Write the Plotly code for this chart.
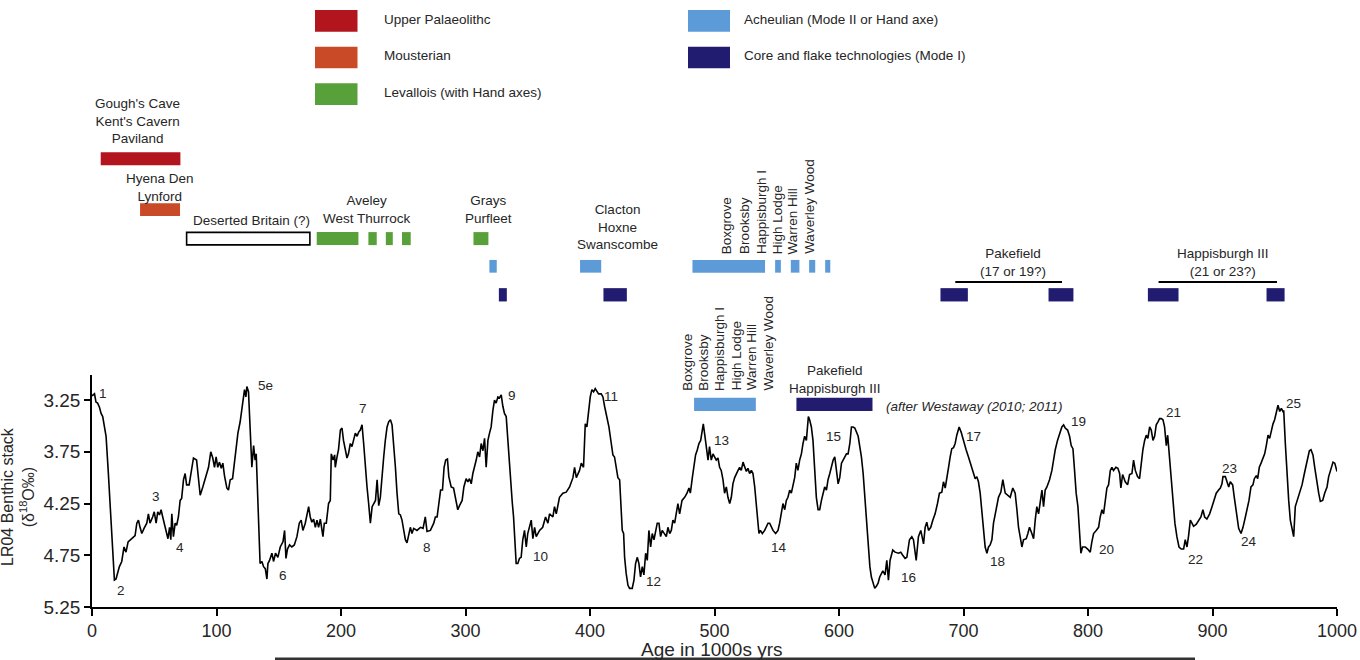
import plotly.graph_objects as go

# ---------------- DATA ----------------
# LR04 benthic stack (age in ka, d18O permil)
age_ka = [0, 2, 3.2, 4.5, 6, 7.3, 8.6, 10, 11.3, 13, 15, 16.6, 18, 19.3, 20.3, 22, 23.9, 25.7, 27.3, 29,
          31.9, 34.6, 36, 37.3, 38.6, 40, 41.8, 44, 45.3, 46.6, 48.7, 50, 51.5, 52.8, 54.2, 55.5, 56.8, 58,
          59.5, 61, 62.3, 63.3, 64.1, 65.4, 66.8, 68, 69.4, 70.8, 72, 73.5, 74.8, 76, 78, 80, 81.5, 84, 85.5,
          86.9, 89, 90.9, 93.6, 95.4, 97, 98.4, 99.7, 101, 102.4, 103.8, 105.1, 106.4, 108.3, 109.6, 111,
          112.9, 114.5, 115.8, 117.2, 119, 120.9, 122.5, 123.6, 124.4, 125.7, 127, 128.4, 129.8, 131, 131.9,
          133, 134.3, 135, 136.5, 137.8, 139.2, 140.5, 141.3, 142.6, 144.5, 145.8, 147.4, 149.3, 151.2,
          153.4, 154.7, 155.8, 157, 158.7, 160.5, 162.5, 164.6, 166.5, 168, 169.4, 171.3, 172.6, 174, 175.3,
          176.6, 178, 179.4, 180.7, 182, 183.4, 184.7, 185.5, 186.6, 188.2, 190, 191.4, 192.2, 193.6, 194.9,
          195.4, 196.8, 198, 199.5, 200.8, 202, 203.5, 204.8, 206, 207.5, 208.8, 210, 211.5, 212.9, 214.2,
          215.5, 216.9, 218.2, 219.6, 220.9, 222.2, 223.6, 225, 226.3, 227.7, 229, 230.3, 231.6, 233, 234.3,
          235.6, 237, 238.3, 239.7, 241, 242.4, 243.7, 245, 246.4, 247.7, 249, 250.4, 251.7, 253, 254.4,
          255.7, 257, 258.4, 261, 263.8, 265.9, 267.7, 269.1, 271.8, 274.5, 275.8, 277.2, 278.6, 280, 281.5,
          282.8, 284.1, 285.5,
          286.6, 288.5, 290.4, 292, 293.8, 295.2, 297.3, 298.7, 300.5, 301.9, 303.2, 304.6, 305.9, 308.6,
          309.9, 311.3, 312.6, 314, 315.3, 316.6, 318, 319.3, 320.6, 322, 323.3, 324.6, 326, 327.3, 328.7,
          330, 331.3, 332.7, 334, 335.4, 336.7, 337.5, 338.6, 339.6, 340.7, 342, 343.4, 344.7, 346, 347.4,
          348.8, 350, 351.4, 352.8, 354.1, 355.5, 356.8, 359.5, 362, 364.3, 366.2, 367.5, 370.2, 371.5,
          372.9, 375.5, 378.2, 380.9, 383.6, 386.3, 387.6, 389, 391.6, 393, 394.8, 396.2, 397.5, 398.8,
          400.2, 401.5, 402.9, 404.2, 405.5, 406.9, 409, 410.4, 411.7, 413, 415.2, 417.1, 418.4, 419.7, 421,
          422.4, 423.8, 425.1, 425.9, 427, 427.8, 429.1, 430.5, 431.8, 433.9, 435.3, 436.6, 438, 439.3,
          440.6, 442, 443.3, 444.7, 446, 447.3, 448.7, 450, 451.4, 452.7, 454, 455.4, 456.7, 458, 459.9,
          461.3, 462.6, 464, 465.3, 466.6, 468, 469.3, 470.6, 472, 473.9, 476, 477.9, 479.5, 480.6, 482.2,
          483.2, 484.8, 486.2, 487.5, 488.9, 490.2, 491, 492, 493.4, 494.8, 496, 497.4, 498.8, 500, 501.4,
          502.8, 504.1, 505.4, 506.8, 508.1, 509.5, 510.8, 512.2, 513.5, 514.8, 516.2, 517.5, 518.9, 520.2,
          521.5, 522.9, 524.2, 525.6, 526.9, 528.2, 529.6, 530.9, 532.3, 533.6, 535, 535.7, 536.8, 538.4,
          540.3, 543, 544.3, 545.6, 547, 549.1, 551, 552.3, 553.7, 555, 556.4, 557.7, 559, 560.4, 561.7, 563,
          564.4, 565.7, 567, 568.4, 569.8, 571.1, 572.4, 573.8, 574.6, 575.4, 576.4, 577.8, 579.1, 580.5,
          581.8, 583.2, 584.5, 585.9, 587.2, 588.5, 589.9, 591.2, 592.6, 593.9, 595.3, 596.6, 597.9, 599.3,
          600.6, 602, 603.3, 604.6, 606, 607.3, 608.7, 610, 611.3, 612.7, 614, 615.4, 616.7, 618, 619.4,
          620.7, 622.1, 623.4, 624.8, 626, 627.4, 628.7, 630, 631.4, 632.7,
          635.2, 637, 638.4, 639.7, 641, 643.2, 645, 647.8, 649.6, 651.2, 653.1, 654.5, 656.6, 658.5, 659.8,
          662, 663.8, 665.7, 667.9, 669.2, 670.5, 671.9, 673.7, 675.4, 677.2, 679.1, 680.7, 682.6, 683.9,
          685.3, 686.6, 688, 689.3, 690.6, 692, 693.3, 694.6, 696.5, 698.1, 700, 702.1, 704, 705.9, 708,
          709.4, 710.7, 712, 713.4, 714.7, 716, 717.4, 718.8, 720.1, 721.4, 722.8, 724.1, 726.3, 728.1, 730,
          731.6, 733.5, 735.4, 737.5, 739.6, 741.5, 742.9, 744.2, 745.5, 746.9, 748.2, 750.4, 751.7, 753,
          754.9, 756.3, 757.6, 758.9, 760.3, 761.6, 763, 764.3, 765.6, 767, 769.1, 771, 772.3, 773.7, 775.5,
          777.1, 779, 780.4, 781.7, 783.6, 785.2, 786.5, 787.9, 789.2, 790.5, 791.9, 793, 794.3, 795.6,
          797.8, 799.7, 801.8, 803.1, 804.5, 806.6, 808.5, 809.8, 811.2, 812.5, 813.8, 815.2, 816.5, 817.9,
          819.2, 820.5, 822.4, 824, 825.4, 826.4, 827.8, 829.9, 831.8, 833.4, 835.3, 836.6, 838, 839.8,
          841.4, 842.8, 844.1, 845.5, 846.8, 848.1, 849.5, 850.8, 852.2, 853.5, 854.8, 856.2, 857.5, 858.9,
          860.2, 861.5, 862.9, 864, 865, 866.6, 868.2, 869.8, 871.4, 873.1, 874.9, 876.8, 878.1, 879.5,
          880.8, 882.2, 883.5, 884.8, 887, 888.9, 890.7, 892.3, 893.7, 895.5, 897.7, 899.6, 901.4, 903,
          904.9, 906.3, 907.6, 908.4, 910.3, 911.6, 913, 914.3, 916.2, 917.5, 919.1, 921, 922.9, 924.5,
          926.4, 927.7, 929.3, 930.9, 932.5, 933.6, 935.2, 936.3, 937.6, 939, 940.6, 941.9, 943.2, 944.6,
          945.9, 947.3, 948.6, 949.9, 951.3, 952.6, 954, 955.3, 956.6, 957.2, 958.5, 959.8, 961.2, 962.5,
          963.9, 965.2, 966.5, 967.9, 970, 971.9, 973.8, 975.9, 977.8, 979.1, 980.7, 982.1, 983.4, 985.3,
          986.6, 988.5, 990.1, 992, 993.3, 995.2, 996.8, 998.2, 1000]

d18o = [3.21, 3.19, 3.27, 3.28, 3.32, 3.38, 3.41, 3.51, 3.60, 3.93, 4.38, 4.73, 4.99, 4.98, 4.93, 4.86, 4.81,
        4.67, 4.72, 4.62, 4.59, 4.56, 4.44, 4.41, 4.48, 4.54, 4.49, 4.44, 4.35, 4.44, 4.38, 4.33, 4.44,
        4.33, 4.36, 4.31, 4.38, 4.44, 4.51, 4.59, 4.48, 4.60, 4.35, 4.57, 4.44, 4.46, 4.38, 4.22, 4.20,
        4.02, 3.96, 4.07, 4.07, 3.90, 3.81, 3.83, 3.99, 4.17, 4.09, 4.02, 3.90, 3.75, 3.81, 3.90, 3.80,
        3.90, 3.85, 3.91, 3.86, 3.98, 4.10, 4.12, 4.02, 4.01, 3.86, 3.73, 3.57, 3.46, 3.28, 3.15, 3.22,
        3.12, 3.17, 3.51, 3.90, 3.69, 3.83, 3.77, 4.15, 4.67, 4.83, 4.81, 4.86, 4.88, 4.98, 4.83, 4.80,
        4.73, 4.81, 4.73, 4.77, 4.67, 4.62, 4.51, 4.78, 4.69, 4.65, 4.67, 4.65, 4.57, 4.44, 4.41, 4.51,
        4.44, 4.35, 4.28, 4.38, 4.43, 4.40, 4.48, 4.41, 4.48, 4.40, 4.49, 4.57, 4.44, 4.44, 4.25, 4.22,
        3.77, 3.83, 3.78, 3.90, 3.80, 3.73, 3.54, 3.52, 3.64, 3.73, 3.81, 3.77, 3.67, 3.70, 3.64, 3.57,
        3.60, 3.56, 3.54, 3.49, 3.67, 3.93, 4.09, 4.25, 4.44, 4.28, 4.25, 4.22, 4.02, 4.27, 4.19, 3.96,
        3.80, 3.64, 3.51, 3.46, 3.44, 3.49, 3.67, 3.90, 4.15, 4.35, 4.36, 4.41, 4.51, 4.60, 4.63, 4.54,
        4.48, 4.54, 4.49, 4.51, 4.48, 4.49, 4.38, 4.52, 4.51, 4.44, 4.38, 4.38, 4.25, 4.12, 4.12, 3.90,
        3.83, 3.82,
        3.99, 4.09, 4.10, 4.22, 4.31, 4.27, 4.22, 4.09, 4.01, 4.04, 4.01, 4.06, 3.96, 3.83, 3.75, 3.80,
        3.67, 3.74, 3.62, 3.90, 3.64, 3.57, 3.51, 3.35, 3.25, 3.28, 3.22, 3.23, 3.20, 3.31, 3.38, 3.41,
        3.64, 3.90, 4.19, 4.23, 4.38, 4.64, 4.83, 4.83, 4.78, 4.77, 4.60, 4.51, 4.67, 4.54, 4.48, 4.41,
        4.59, 4.48, 4.57, 4.51, 4.48, 4.38, 4.44, 4.35, 4.38, 4.28, 4.35, 4.19, 4.15, 4.14, 4.09, 4.00,
        3.90, 4.00, 3.93, 3.86, 3.90, 3.48, 3.51, 3.35, 3.22, 3.15, 3.17, 3.14, 3.17, 3.19, 3.19, 3.22,
        3.31, 3.38, 3.51, 3.67, 3.78, 3.80, 3.88, 4.00, 4.02, 4.28, 4.51, 4.54, 4.77, 4.93, 5.04, 5.07,
        5.07, 4.99, 4.83, 4.77, 4.83, 4.96, 4.86, 4.94, 4.73, 4.80, 4.51, 4.67, 4.54, 4.60, 4.51, 4.44,
        4.44, 4.57, 4.51, 4.54, 4.57, 4.48, 4.54, 4.51, 4.41, 4.44, 4.35, 4.25, 4.35, 4.22, 4.19, 4.15,
        4.10, 4.15, 4.00, 3.91, 3.78, 3.73, 3.67, 3.64, 3.54, 3.48, 3.57, 3.70, 3.83, 3.70, 3.83, 3.77,
        3.80, 3.83, 3.81, 3.90, 3.93, 4.02, 4.15, 4.09, 4.19, 4.25, 4.19, 4.06, 4.00, 3.96, 3.93, 3.90,
        3.93, 3.85, 3.90, 3.94, 3.91, 3.96, 3.93, 3.96, 4.09, 4.25, 4.38, 4.54, 4.51, 4.54, 4.51, 4.44,
        4.44, 4.48, 4.51, 4.54, 4.51, 4.44, 4.35, 4.25, 4.31, 4.22, 4.19, 4.12, 4.15, 4.06, 4.00, 3.86,
        3.93, 3.83, 3.77, 3.67, 3.60, 3.64, 3.51, 3.41, 3.44, 3.51, 3.64, 3.90, 4.19, 4.31, 4.31, 4.22,
        4.15, 4.09, 4.12, 4.02, 3.96, 3.90, 3.83, 3.80, 3.93, 4.06, 4.00, 3.86, 3.83, 3.80, 3.77, 3.77,
        3.67, 3.51, 3.51, 3.52, 3.56, 3.60, 3.70, 3.80, 3.96, 4.19, 4.44, 4.67, 4.86, 4.96, 5.02, 5.07,
        5.05, 5.02, 4.96,
        4.90, 4.94, 4.80, 4.99, 4.80, 4.70, 4.72, 4.73, 4.72, 4.75, 4.78, 4.77, 4.60, 4.57, 4.60, 4.80,
        4.57, 4.51, 4.64, 4.48, 4.43, 4.51, 4.48, 4.41, 4.35, 4.25, 4.15, 4.14, 4.04, 4.10, 4.02, 3.90,
        3.80, 3.72, 3.71, 3.67, 3.59, 3.51, 3.56, 3.65, 3.73, 3.80, 3.88, 3.96, 4.01, 3.99, 4.04, 4.15,
        4.31, 4.51, 4.67, 4.73, 4.67, 4.65, 4.60, 4.44, 4.31, 4.19, 4.14, 4.02, 4.15, 4.17, 4.19, 4.10,
        4.15, 4.31, 4.48, 4.57, 4.67, 4.60, 4.59, 4.54, 4.48, 4.54, 4.59, 4.41, 4.28, 4.35, 4.22, 4.12,
        4.28, 4.12, 4.09, 4.02, 3.93, 3.83, 3.73, 3.64, 3.57, 3.51, 3.49, 3.52, 3.54, 3.60, 3.69, 3.72,
        3.93, 4.15, 4.28, 4.51, 4.73, 4.67, 4.67, 4.69, 4.72, 4.62, 4.54, 4.51, 4.48, 4.38, 4.31, 4.35,
        4.22, 4.10, 4.07, 3.93, 3.90, 3.93, 3.90, 3.91, 3.96, 4.10, 3.97, 4.04, 4.07, 3.97, 3.96, 3.83,
        3.93, 3.99, 4.01, 3.86, 3.73, 3.64, 3.59, 3.62, 3.51, 3.54, 3.64, 3.60, 3.49, 3.46, 3.43, 3.43,
        3.44, 3.51, 3.69, 3.59, 3.73, 3.99, 4.25, 4.44, 4.57, 4.67, 4.69, 4.69, 4.60, 4.67, 4.56, 4.41,
        4.44, 4.47, 4.45, 4.41, 4.38, 4.31, 4.38, 4.40, 4.35, 4.28, 4.22, 4.15, 4.12, 4.10, 4.06, 3.99,
        3.99, 4.04, 4.09, 4.04, 4.07, 4.19, 4.35, 4.49, 4.54, 4.48, 4.38, 4.31, 4.22, 4.09, 4.07, 4.01,
        3.98, 4.01, 3.90, 3.86, 3.80, 3.77, 3.69, 3.59, 3.62, 3.54, 3.48, 3.44, 3.38, 3.30, 3.36, 3.33,
        3.36, 3.35, 3.67, 3.96, 4.22, 4.41, 4.51, 4.57, 4.28, 4.22, 4.15, 4.07, 3.96, 3.83, 3.74, 3.73,
        3.78, 3.90, 4.02, 4.15, 4.23, 4.22, 4.15, 4.09, 3.99, 3.90, 3.85, 3.86, 3.94]

# Marine isotope stage labels: (text, age ka, d18O)
stage_labels = [("1", 9.1, 3.185), ("2", 23.1, 5.095), ("3", 51.2, 4.186), ("4", 70.9, 4.679),
                ("5e", 139.2, 3.105), ("6", 153.7, 4.943), ("7", 217.5, 3.33), ("8", 268.9, 4.679),
                ("9", 337.2, 3.208), ("10", 359.9, 4.759), ("11", 416.7, 3.211), ("12", 451.0, 5.001),
                ("13", 505.9, 3.644), ("14", 551.9, 4.679), ("15", 595.6, 3.605), ("16", 655.8, 4.969),
                ("17", 708.0, 3.605), ("18", 727.3, 4.808), ("19", 792.4, 3.453), ("20", 814.7, 4.695),
                ("21", 868.7, 3.369), ("22", 886.2, 4.791), ("23", 913.7, 3.911), ("24", 929.0, 4.621),
                ("25", 964.7, 3.282)]

# Archaeological occupation spans (start ka, end ka)
upper_pal_spans = [(7, 71)]
mousterian_spans = [(38.6, 70.7)]
deserted_spans = [(76, 175)]
levallois_spans = [(180.5, 214), (222, 228.7), (236, 241.6), (249, 256), (306.4, 318.4)]
acheulian_spans = [(319.2, 325.1), (392, 409), (482.3, 540.6), (548.7, 553.3), (561.3, 568.2),
                   (576, 580.9), (588.9, 593)]
core_spans = [(326.8, 333.2), (410.8, 429.6), (681.5, 703.5), (768.3, 788.3), (848.1, 872.7),
              (943.4, 957.9)]
westaway_acheulian = [(483.6, 533.2)]
westaway_core = [(565.8, 626.9)]
bracket_spans = [(693.4, 779.1), (856.7, 951.8)]

x_ticks = [0, 100, 200, 300, 400, 500, 600, 700, 800, 900, 1000]
y_ticks = [3.25, 3.75, 4.25, 4.75, 5.25]
y_ticktext = ["3.25", "3.75", "4.25", "4.75", "5.25"]

# ---------------- STYLE / LAYOUT ----------------
W, H = 1360, 660
L, R, T, B = 92, 23, 0, 53
PH = H - T - B          # plot height in px
PW = W - L - R
FONT = "Liberation Sans, Arial, sans-serif"
TXT = "#262626"

C_RED = "#B3151F"
C_ORANGE = "#C94A27"
C_GREEN = "#58A03A"
C_LBLUE = "#5C9AD8"
C_NAVY = "#211C70"


def pxx(px):
    return (px - L) / PW


def pxy(py):
    return (PH - py) / PH


fig = go.Figure()

# main curve
fig.add_trace(go.Scatter(x=age_ka, y=d18o, mode="lines",
                         line=dict(color="black", width=1.6),
                         showlegend=False, hoverinfo="skip"))


def add_bars(spans, row, height, color, line_color=None):
    fig.add_trace(go.Bar(
        y=[row] * len(spans), x=[e - s for s, e in spans], base=[s for s, e in spans],
        orientation="h", width=height, yaxis="y2",
        marker=dict(color=color, line=dict(color=line_color or color, width=1.6 if line_color else 0)),
        showlegend=False, hoverinfo="skip"))


# rows (y2 is measured in px from top of plot area)
ROW_UP, ROW_MOUS, ROW_LEV, ROW_ACH, ROW_CORE, ROW_LOW = 158.8, 209.7, 238.6, 266.3, 294.8, 404.3
add_bars(upper_pal_spans, ROW_UP, 13, C_RED)
add_bars(mousterian_spans, ROW_MOUS, 12.7, C_ORANGE)
add_bars(deserted_spans, ROW_LEV, 12.5, "white", "black")
add_bars(levallois_spans, ROW_LEV, 13, C_GREEN)
add_bars(acheulian_spans, ROW_ACH, 12.7, C_LBLUE)
add_bars(core_spans, ROW_CORE, 13.3, C_NAVY)
add_bars(westaway_acheulian, ROW_LOW, 13.3, C_LBLUE)
add_bars(westaway_core, ROW_LOW, 13.3, C_NAVY)

for s, e in bracket_spans:
    fig.add_trace(go.Scatter(x=[s, e], y=[282, 282], yaxis="y2", mode="lines",
                             line=dict(color="black", width=2.2), showlegend=False, hoverinfo="skip"))

ann = []
# stage labels
for t, xa, ya in stage_labels:
    ann.append(dict(x=xa, y=ya, xref="x", yref="y", text=t, showarrow=False,
                    xanchor="center", yanchor="middle", font=dict(size=13.5, color=TXT, family=FONT)))


def label(x, y, text, xanchor="center", yanchor="middle", angle=0, italic=False):
    ann.append(dict(x=x, y=y, xref="x", yref="y2", text=text, showarrow=False, textangle=angle,
                    xanchor=xanchor, yanchor=yanchor, align="center",
                    font=dict(size=13.5, color=TXT, family=FONT,
                              style="italic" if italic else "normal")))


label(36.2, 120.5, "Gough's Cave<br>Kent's Cavern<br>Paviland")
label(54.6, 187.5, "Hyena Den<br>Lynford")
label(128.3, 220.7, "Deserted Britain (?)")
label(220.7, 209.7, "Aveley<br>West Thurrock")
label(318.4, 209.7, "Grays<br>Purfleet")
label(422.2, 226.5, "Clacton<br>Hoxne<br>Swanscombe")
label(739.4, 262.8, "Pakefield<br>(17 or 19?)")
label(908.1, 262.8, "Happisburgh III<br>(21 or 23?)")
label(596.4, 379.2, "Pakefield<br>Happisburgh III")
label(636.5, 406, "(after Westaway (2010; 2011)", xanchor="left", italic=True)

sites = ["Boxgrove", "Brooksby", "Happisburgh I", "High Lodge", "Warren Hill", "Waverley Wood"]
upper_site_x = [509.9, 524.0, 537.4, 550.8, 562.6, 576.2]
lower_site_x = [477.8, 490.6, 504.0, 517.4, 530.0, 543.3]
for s, xu, xl in zip(sites, upper_site_x, lower_site_x):
    label(xu, 256, s, yanchor="bottom", angle=-90)
    label(xl, 392.5, s, yanchor="bottom", angle=-90)

# legend (drawn)
shapes = []
legend_items = [("Upper Palaeolithc", C_RED, 315, 357.5, 10, 31.7),
                ("Mousterian", C_ORANGE, 315, 357.5, 46.7, 68.3),
                ("Levallois (with Hand axes)", C_GREEN, 315, 357.5, 83.3, 105),
                ("Acheulian (Mode II or Hand axe)", C_LBLUE, 688, 730, 10, 31.7),
                ("Core and flake technologies (Mode I)", C_NAVY, 688, 730, 46.7, 68.3)]
for text, col, x0, x1, y0, y1 in legend_items:
    shapes.append(dict(type="rect", xref="paper", yref="paper", x0=pxx(x0), x1=pxx(x1),
                       y0=pxy(y1), y1=pxy(y0), fillcolor=col, line=dict(width=0), layer="above"))
    tx = 381.5 if x0 < 500 else 742
    ann.append(dict(x=pxx(tx), y=pxy((y0 + y1) / 2 - 1.5), xref="paper", yref="paper", text=text,
                    showarrow=False, xanchor="left", yanchor="middle",
                    font=dict(size=13.5, color=TXT, family=FONT)))

# axis titles
ann.append(dict(x=pxx(18), y=pxy(497), xref="paper", yref="paper", textangle=-90,
                text="LR04 Benthic stack<br>(δ<sup>18</sup>O‰)", showarrow=False,
                xanchor="center", yanchor="middle", align="center",
                font=dict(size=16, color=TXT, family=FONT)))
ann.append(dict(x=pxx(712), y=pxy(650), xref="paper", yref="paper", text="Age in 1000s yrs",
                showarrow=False, xanchor="center", yanchor="middle",
                font=dict(size=19, color=TXT, family=FONT)))

# thin strip of the following figure visible at the bottom edge
shapes.append(dict(type="rect", xref="paper", yref="paper", x0=pxx(275), x1=pxx(1195),
                   y0=pxy(660), y1=pxy(657.5), fillcolor="#333333", line=dict(width=0)))

fig.update_layout(
    width=W, height=H,
    margin=dict(l=L, r=R, t=T, b=B, pad=0),
    paper_bgcolor="white", plot_bgcolor="rgba(0,0,0,0)",
    barmode="overlay",
    font=dict(family=FONT, color=TXT),
    xaxis=dict(range=[0, 1000], tickvals=x_ticks, ticks="outside", ticklen=7, tickwidth=1.5,
               tickcolor="black", showline=True, linecolor="black", linewidth=1.6,
               showgrid=False, zeroline=False, tickfont=dict(size=18, color=TXT, family=FONT)),
    yaxis=dict(domain=[0, (PH - 375) / PH], range=[5.25, 3.008], tickvals=y_ticks, ticktext=y_ticktext,
               ticks="outside", ticklen=6, tickwidth=1.5, tickcolor="black",
               showline=True, linecolor="black", linewidth=1.6, showgrid=False, zeroline=False,
               tickfont=dict(size=19, color=TXT, family=FONT)),
    yaxis2=dict(domain=[0, 1], range=[PH, 0], anchor="x", visible=False, showgrid=False,
                zeroline=False, fixedrange=True),
    annotations=ann, shapes=shapes,
)

fig.write_html("out.html")
